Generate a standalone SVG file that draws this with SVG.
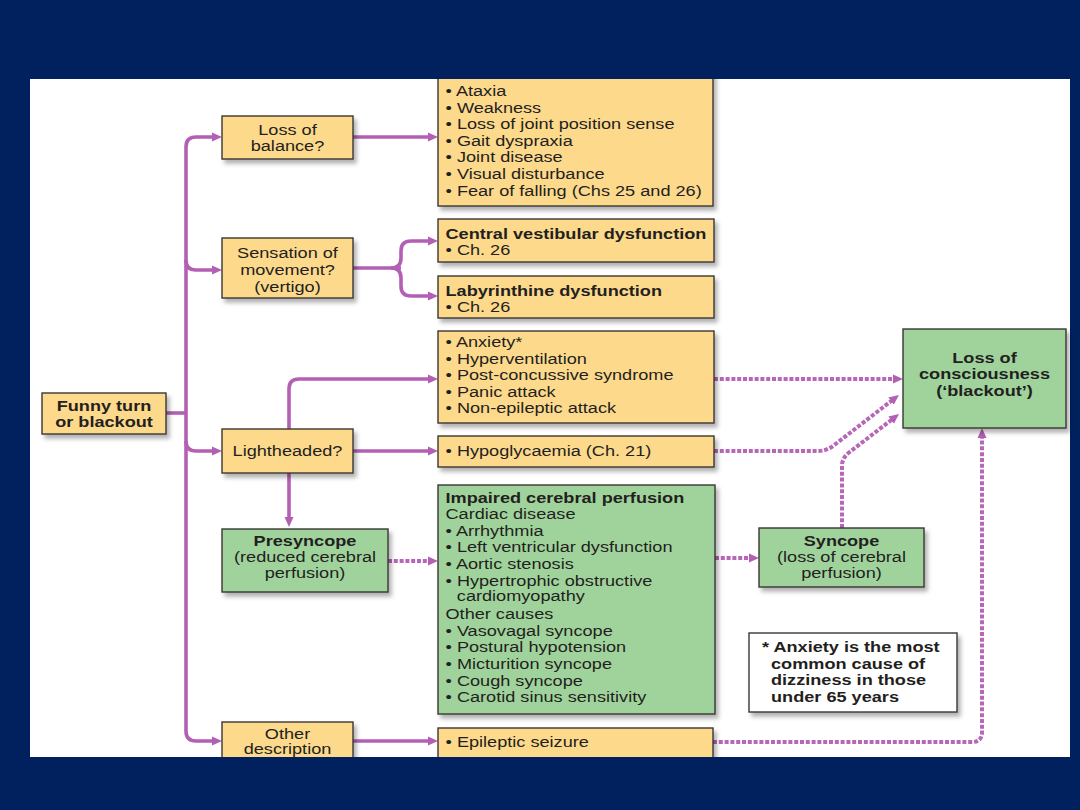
<svg xmlns="http://www.w3.org/2000/svg" width="1080" height="810" viewBox="0 0 1080 810">
<style>
.t{font-family:"Liberation Sans",Arial,Helvetica,sans-serif;font-size:15.5px;fill:#231f20}
.c{text-anchor:middle}
.b{font-weight:bold}
.y{fill:#fdd98c;stroke:#3a3633;stroke-width:1.4;filter:url(#sh)}
.g{fill:#a0d39c;stroke:#3a3633;stroke-width:1.4;filter:url(#sh)}
.w{fill:#ffffff;stroke:#3a3633;stroke-width:1.4;filter:url(#sh)}
.s{fill:none;stroke:#b35fb3;stroke-width:3.6;marker-end:url(#ah)}
.sn{fill:none;stroke:#b35fb3;stroke-width:3.6}
.d{fill:none;stroke:#b866b8;stroke-width:4;stroke-dasharray:4 1.8;marker-end:url(#ah)}
</style>
<defs>
<filter id="sh" x="-10%" y="-10%" width="130%" height="140%">
<feDropShadow dx="3" dy="4" stdDeviation="2.2" flood-color="#000" flood-opacity="0.3"/>
</filter>
<marker id="ah" markerUnits="userSpaceOnUse" markerWidth="11" markerHeight="10" refX="4" refY="5" orient="auto">
<path d="M0,0.5 L10,5 L0,9.5 z" fill="#b35fb3"/>
</marker>
</defs>
<rect x="0" y="0" width="1080" height="810" fill="#00205e"/>
<rect x="30" y="79" width="1040" height="678" fill="#ffffff"/>

<g id="connectors">
<path class="sn" d="M166,413 H186"/>
<path class="s" d="M186,147 Q186,137 196,137 H216"/>
<path class="sn" d="M186,147 V731"/>
<path class="s" d="M186,260 Q186,270 196,270 H216"/>
<path class="s" d="M186,441 Q186,451 196,451 H216"/>
<path class="s" d="M186,731 Q186,741 196,741 H216"/>
<path class="s" d="M353,137 H432"/>
<path class="sn" d="M353,268 H401"/>
<path class="s" d="M391,268 Q401,268 401,258 V251 Q401,241 411,241 H432"/>
<path class="s" d="M391,268 Q401,268 401,278 V286 Q401,296 411,296 H432"/>
<path class="s" d="M289,429 V389 Q289,379 299,379 H432"/>
<path class="s" d="M353,451 H432"/>
<path class="s" d="M289,473 V521"/>
<path class="s" d="M353,741 H432"/>
<path class="d" d="M714,379 H897"/>
<path class="d" d="M714,451 H818 Q826,451 833,446 L894.2,398.7"/>
<path class="d" d="M842,528 V466 Q842,458 849,452.5 L894.3,417.7"/>
<path class="d" d="M388,561 H432"/>
<path class="d" d="M715,558 H753"/>
<path class="d" d="M713,742 H972 Q982,742 982,732 V434"/>
</g>

<g id="funny-turn">
<rect class="y" x="42" y="393" width="124" height="41"/>
<text class="t b c" transform="translate(104,411) scale(1.17,1)"><tspan x="0" y="0">Funny turn</tspan><tspan x="0" y="16.5">or blackout</tspan></text>
</g>

<g id="loss-of-balance">
<rect class="y" x="222" y="116" width="131" height="43"/>
<text class="t c" transform="translate(287.5,134.5) scale(1.17,1)"><tspan x="0" y="0">Loss of</tspan><tspan x="0" y="17">balance?</tspan></text>
</g>

<g id="sensation">
<rect class="y" x="222" y="238" width="131" height="60"/>
<text class="t c" transform="translate(287.5,258) scale(1.17,1)"><tspan x="0" y="0">Sensation of</tspan><tspan x="0" y="17">movement?</tspan><tspan x="0" y="34">(vertigo)</tspan></text>
</g>

<g id="lightheaded">
<rect class="y" x="222" y="429" width="131" height="44"/>
<text class="t c" transform="translate(287.5,456) scale(1.17,1)">Lightheaded?</text>
</g>

<g id="other-description">
<rect class="y" x="222" y="722" width="131" height="50"/>
<text class="t c" transform="translate(287.5,738.5) scale(1.17,1)"><tspan x="0" y="0">Other</tspan><tspan x="0" y="16">description</tspan></text>
</g>

<g id="balance-causes">
<rect class="y" x="438" y="70" width="275" height="136"/>
<text class="t" transform="translate(445.5,96) scale(1.17,1)"><tspan x="0" y="0">• Ataxia</tspan><tspan x="0" y="16.6">• Weakness</tspan><tspan x="0" y="33.2">• Loss of joint position sense</tspan><tspan x="0" y="49.8">• Gait dyspraxia</tspan><tspan x="0" y="66.4">• Joint disease</tspan><tspan x="0" y="83">• Visual disturbance</tspan><tspan x="0" y="99.6">• Fear of falling (Chs 25 and 26)</tspan></text>
</g>

<g id="central-vestibular">
<rect class="y" x="438" y="219" width="276" height="43"/>
<text class="t" transform="translate(445.5,239) scale(1.17,1)"><tspan x="0" y="0" class="b">Central vestibular dysfunction</tspan><tspan x="0" y="16.5">• Ch. 26</tspan></text>
</g>

<g id="labyrinthine">
<rect class="y" x="438" y="276" width="276" height="42"/>
<text class="t" transform="translate(445.5,296) scale(1.17,1)"><tspan x="0" y="0" class="b">Labyrinthine dysfunction</tspan><tspan x="0" y="16.5">• Ch. 26</tspan></text>
</g>

<g id="anxiety-causes">
<rect class="y" x="438" y="331" width="276" height="92"/>
<text class="t" transform="translate(445.5,347) scale(1.17,1)"><tspan x="0" y="0">• Anxiety*</tspan><tspan x="0" y="16.6">• Hyperventilation</tspan><tspan x="0" y="33.2">• Post-concussive syndrome</tspan><tspan x="0" y="49.8">• Panic attack</tspan><tspan x="0" y="66.4">• Non-epileptic attack</tspan></text>
</g>

<g id="hypoglycaemia">
<rect class="y" x="438" y="436" width="276" height="31"/>
<text class="t" transform="translate(445.5,456) scale(1.17,1)">• Hypoglycaemia (Ch. 21)</text>
</g>

<g id="epileptic">
<rect class="y" x="438" y="728" width="275" height="45"/>
<text class="t" transform="translate(445.5,746.5) scale(1.17,1)">• Epileptic seizure</text>
</g>

<g id="presyncope">
<rect class="g" x="222" y="529" width="166" height="63"/>
<text class="t c" transform="translate(305,545.5) scale(1.17,1)"><tspan x="0" y="0" class="b">Presyncope</tspan><tspan x="0" y="16.5">(reduced cerebral</tspan><tspan x="0" y="33">perfusion)</tspan></text>
</g>

<g id="impaired-perfusion">
<rect class="g" x="438" y="485" width="277" height="229"/>
<text class="t" transform="translate(445.5,502.5) scale(1.17,1)"><tspan x="0" y="0" class="b">Impaired cerebral perfusion</tspan><tspan x="0" y="16.67">Cardiac disease</tspan><tspan x="0" y="33.33">• Arrhythmia</tspan><tspan x="0" y="50">• Left ventricular dysfunction</tspan><tspan x="0" y="66.67">• Aortic stenosis</tspan><tspan x="0" y="83.33">• Hypertrophic obstructive</tspan><tspan x="9.7" y="99">cardiomyopathy</tspan><tspan x="0" y="116.67">Other causes</tspan><tspan x="0" y="133.33">• Vasovagal syncope</tspan><tspan x="0" y="150">• Postural hypotension</tspan><tspan x="0" y="166.67">• Micturition syncope</tspan><tspan x="0" y="183.33">• Cough syncope</tspan><tspan x="0" y="200">• Carotid sinus sensitivity</tspan></text>
</g>

<g id="syncope">
<rect class="g" x="759" y="528" width="165" height="59"/>
<text class="t c" transform="translate(841.5,545.5) scale(1.17,1)"><tspan x="0" y="0" class="b">Syncope</tspan><tspan x="0" y="16.5">(loss of cerebral</tspan><tspan x="0" y="33">perfusion)</tspan></text>
</g>

<g id="loss-of-consciousness">
<rect class="g" x="903" y="329" width="163" height="99"/>
<text class="t b c" transform="translate(984.5,363) scale(1.17,1)"><tspan x="0" y="0">Loss of</tspan><tspan x="0" y="16.5">consciousness</tspan><tspan x="0" y="33">(‘blackout’)</tspan></text>
</g>

<g id="note">
<rect class="w" x="749" y="633" width="208" height="79"/>
<text class="t b" transform="translate(762,652) scale(1.17,1)"><tspan x="0" y="0">* Anxiety is the most</tspan><tspan x="7.7" y="16.7">common cause of</tspan><tspan x="7.7" y="33.4">dizziness in those</tspan><tspan x="7.7" y="50">under 65 years</tspan></text>
</g>

<g id="frame">
<rect x="0" y="0" width="1080" height="79" fill="#00205e"/>
<rect x="0" y="757" width="1080" height="53" fill="#00205e"/>
</g>
</svg>
